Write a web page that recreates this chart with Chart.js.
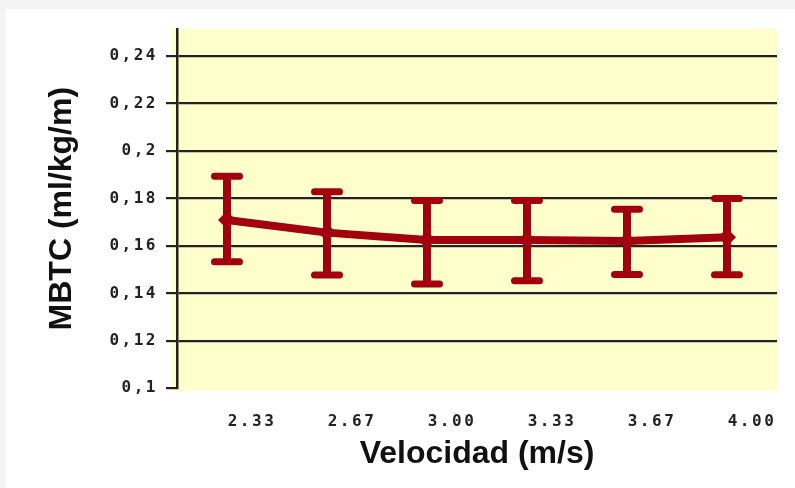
<!DOCTYPE html>
<html><head><meta charset="utf-8">
<script src="https://cdn.jsdelivr.net/npm/chart.js@4.4.1/dist/chart.umd.min.js"></script>
<style>html,body{margin:0;padding:0;background:#f4f4f4;overflow:hidden}
#wrap{position:absolute;left:0;top:0;width:795px;height:488px}
</style></head><body><div id="wrap"><canvas id="c" width="795" height="488"></canvas></div>
<script>
const categories = ['2.33', '2.67', '3.00', '3.33', '3.67', '4.00'];
const meanValues = [0.1709, 0.1656, 0.1625, 0.1625, 0.1621, 0.1636];
const upperValues = [0.1894, 0.1828, 0.1791, 0.1791, 0.1754, 0.1800];
const lowerValues = [0.1533, 0.1477, 0.1440, 0.1453, 0.1479, 0.1478];
const yTickValues = [0.1, 0.12, 0.14, 0.16, 0.18, 0.2, 0.22, 0.24];
const yTickLabels = ['0,1', '0,12', '0,14', '0,16', '0,18', '0,2', '0,22', '0,24'];

const RED = '#a3000f';
const INK = '#222222';

const bgPlugin = {
  id: 'bg',
  beforeDraw(chart) {
    const {ctx, chartArea: a} = chart;
    ctx.save();
    ctx.fillStyle = '#f4f4f4';
    ctx.fillRect(0, 0, chart.width, chart.height);
    ctx.fillStyle = '#ffffff';
    ctx.fillRect(6, 9, chart.width - 6, chart.height - 9);
    ctx.fillStyle = '#ffffcc';
    ctx.fillRect(a.left - 5, a.top, a.right - a.left + 6, a.bottom - a.top + 2.5);
    ctx.restore();
  }
};

const spacingPlugin = {
  id: 'tickSpacing',
  afterUpdate(chart) {
    ['x', 'y'].forEach(id => {
      const s = chart.scales[id];
      if (s && !s._patchedSpacing) {
        const orig = s.drawLabels;
        s.drawLabels = function (area) {
          const c = this.ctx;
          const prev = c.letterSpacing;
          c.letterSpacing = '2.5px';
          orig.call(this, area);
          c.letterSpacing = prev || '0px';
        };
        s._patchedSpacing = true;
      }
    });
  }
};

const errorBarPlugin = {
  id: 'errorBars',
  afterDatasetsDraw(chart) {
    const meta = chart.getDatasetMeta(0);
    const y = chart.scales.y;
    const ctx = chart.ctx;
    ctx.save();
    ctx.strokeStyle = RED;
    meta.data.forEach((pt, i) => {
      const x = pt.x;
      const yu = y.getPixelForValue(upperValues[i]);
      const yl = y.getPixelForValue(lowerValues[i]);
      ctx.lineWidth = 8;
      ctx.lineCap = 'butt';
      ctx.beginPath();
      ctx.moveTo(x, yu);
      ctx.lineTo(x, yl);
      ctx.stroke();
      ctx.lineWidth = 7;
      ctx.lineCap = 'round';
      ctx.beginPath();
      ctx.moveTo(x - 12.5, yu); ctx.lineTo(x + 12.5, yu);
      ctx.moveTo(x - 12.5, yl); ctx.lineTo(x + 12.5, yl);
      ctx.stroke();
    });
    ctx.restore();
  }
};

const tickFont = {family: 'DejaVu Sans Mono', weight: 'bold', size: 16};
const titleFont = {family: 'Liberation Sans', weight: 'bold', size: 32};

new Chart(document.getElementById('c'), {
  type: 'line',
  data: {
    labels: categories,
    datasets: [{
      data: meanValues,
      borderColor: RED,
      backgroundColor: RED,
      borderWidth: 8,
      tension: 0,
      pointStyle: 'rectRot',
      pointRadius: 9,
      pointBorderWidth: 0,
      pointBackgroundColor: RED,
      fill: false
    }]
  },
  options: {
    responsive: false,
    animation: false,
    devicePixelRatio: 1,
    layout: {padding: {left: 0, right: 18, top: 29, bottom: 0}},
    plugins: {legend: {display: false}, tooltip: {enabled: false}},
    scales: {
      x: {
        type: 'category',
        offset: true,
        afterFit(s) { s.height = 488 - 388.3; },
        grid: {display: false, drawTicks: false},
        border: {display: false},
        ticks: {font: tickFont, color: INK, padding: 24, labelOffset: 25, maxRotation: 0, autoSkip: false},
        title: {display: true, text: 'Velocidad (m/s)', font: titleFont, color: '#111', padding: {top: 0, bottom: 15}}
      },
      y: {
        min: 0.1,
        max: 0.2514,
        afterFit(s) { s.width = 177; },
        afterBuildTicks(s) { s.ticks = yTickValues.map(v => ({value: v})); },
        grid: {
          color: c => (c.index === 0 ? 'rgba(0,0,0,0)' : INK),
          tickColor: INK,
          lineWidth: 2.2,
          drawTicks: true,
          tickLength: 11
        },
        border: {display: true, color: INK, width: 2.5},
        ticks: {
          font: tickFont, color: INK, padding: 8,
          callback: (v, i) => yTickLabels[i]
        },
        title: {display: true, text: 'MBTC (ml/kg/m)', font: titleFont, color: '#111', padding: {top: 43, bottom: 0}}
      }
    }
  },
  plugins: [bgPlugin, spacingPlugin, errorBarPlugin]
});
</script></body></html>
